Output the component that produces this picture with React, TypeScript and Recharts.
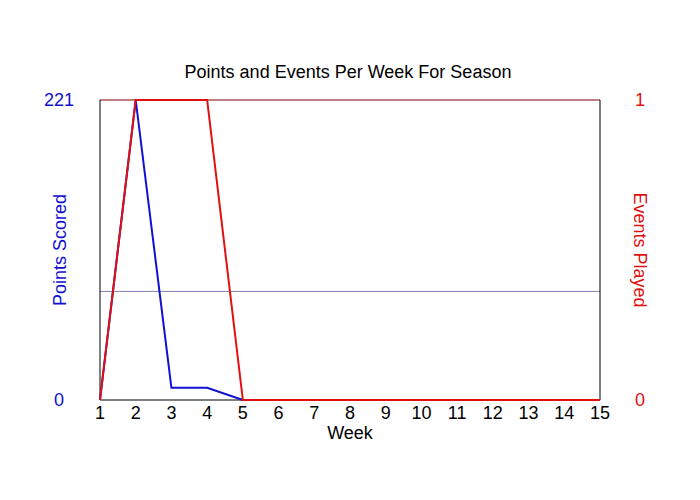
import React from "react";
import {
  LineChart,
  Line,
  XAxis,
  YAxis,
  ReferenceLine,
  Label,
} from "recharts";

const WEEKS = [1, 2, 3, 4, 5, 6, 7, 8, 9, 10, 11, 12, 13, 14, 15];
const POINTS = [0, 221, 9, 9, 0, 0, 0, 0, 0, 0, 0, 0, 0, 0, 0];
const EVENTS = [0, 1, 1, 1, 0, 0, 0, 0, 0, 0, 0, 0, 0, 0, 0];
const POINTS_TICKS = [0, 221];
const EVENTS_TICKS = [0, 1];
const GRID_VALUE = 80;

const BLUE = "#1010d0";
const RED = "#e01010";
const FONT = "'Liberation Sans', Arial, sans-serif";

const data = WEEKS.map((w, i) => ({ week: w, points: POINTS[i], events: EVENTS[i] }));

// side tick labels are centred in the margin, not right-aligned to the plot
const SideTick = (props: any) => {
  const { x, y, payload, color, dx } = props;
  return (
    <text
      x={x + dx}
      y={y}
      dy={6}
      textAnchor="middle"
      fill={color}
      fontSize={18}
      fontFamily={FONT}
    >
      {payload.value}
    </text>
  );
};

export default function App() {
  return (
    <div style={{ position: "absolute", left: 0, top: 0, width: 700, height: 500, background: "#fff" }}>
      <div
        style={{
          position: "absolute",
          top: 62,
          left: 0,
          width: 696,
          textAlign: "center",
          fontFamily: FONT,
          fontSize: 18,
          color: "#000",
        }}
      >
        Points and Events Per Week For Season
      </div>
      <LineChart
        width={700}
        height={500}
        data={data}
        margin={{ top: 100, right: 0, bottom: 0, left: 0 }}
      >
        <XAxis
          dataKey="week"
          type="number"
          domain={[1, 15]}
          ticks={WEEKS}
          interval={0}
          axisLine={false}
          tickLine={false}
          tickMargin={0}
          height={100}
          tick={{ fill: "#000", fontSize: 18, fontFamily: FONT }}
        >
          <Label
            value="Week"
            position="insideTop"
            offset={26}
            fill="#000"
            fontSize={18}
            fontFamily={FONT}
          />
        </XAxis>
        <YAxis
          yAxisId="left"
          domain={[0, 221]}
          ticks={POINTS_TICKS}
          width={100}
          axisLine={false}
          tickLine={false}
          tick={<SideTick color={BLUE} dx={-33} />}
        >
          <Label
            value="Points Scored"
            angle={-90}
            position="center"
            dx={10}
            fill={BLUE}
            fontSize={18}
            fontFamily={FONT}
          />
        </YAxis>
        <YAxis
          yAxisId="right"
          orientation="right"
          domain={[0, 1]}
          ticks={EVENTS_TICKS}
          width={100}
          axisLine={false}
          tickLine={false}
          tick={<SideTick color={RED} dx={32} />}
        >
          <Label
            value="Events Played"
            angle={90}
            position="center"
            dx={-10}
            fill={RED}
            fontSize={18}
            fontFamily={FONT}
          />
        </YAxis>
        <ReferenceLine yAxisId="left" y={GRID_VALUE} stroke="#8080b0" strokeWidth={1} />
        <ReferenceLine yAxisId="left" y={221} stroke="#800000" strokeWidth={1} />
        <ReferenceLine yAxisId="left" y={0} stroke="#000" strokeWidth={1} />
        <ReferenceLine yAxisId="left" x={1} stroke="#000" strokeWidth={1} />
        <ReferenceLine yAxisId="left" x={15} stroke="#000" strokeWidth={1} />
        <Line
          yAxisId="left"
          type="linear"
          dataKey="points"
          stroke={BLUE}
          strokeWidth={2}
          dot={false}
          isAnimationActive={false}
        />
        <Line
          yAxisId="right"
          type="linear"
          dataKey="events"
          stroke={RED}
          strokeWidth={2}
          dot={false}
          isAnimationActive={false}
        />
      </LineChart>
    </div>
  );
}
